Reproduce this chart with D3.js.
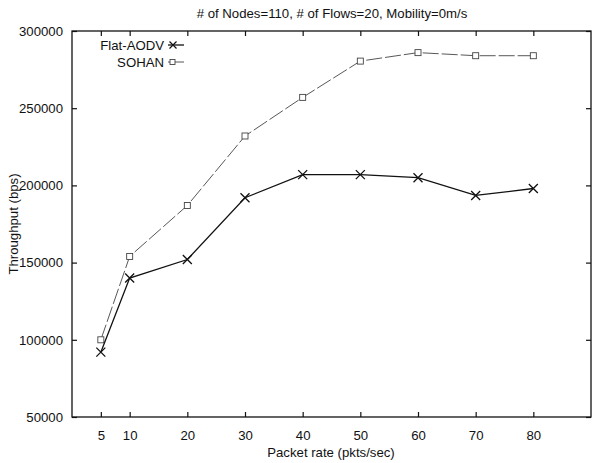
<!DOCTYPE html>
<html>
<head>
<meta charset="utf-8">
<script src="https://cdn.jsdelivr.net/npm/d3@7"></script>
<style>
  body { margin: 0; background: #fff; }
  text { font-family: "Liberation Sans", Arial, sans-serif; fill: #111; }
</style>
</head>
<body>
<svg id="chart" width="592" height="463"></svg>
<script>
// data
var rates = [5, 10, 20, 30, 40, 50, 60, 70, 80];
var flatAodv = [92000, 140000, 152000, 192000, 207000, 207000, 205000, 193500, 198000];
var sohan = [100000, 154000, 187000, 232000, 257000, 280500, 286000, 284000, 284000];
var yTicks = [50000, 100000, 150000, 200000, 250000, 300000];
var seriesNames = ["Flat-AODV", "SOHAN"];

var svg = d3.select("#chart"),
    margin = {left: 72, right: 1, top: 31, bottom: 46},
    W = 592, H = 463,
    fs = 13.2;

var x = d3.scaleLinear().domain([0, 90]).range([margin.left, W - margin.right]);
var y = d3.scaleLinear().domain([50000, 300000]).range([H - margin.bottom, margin.top]);

// frame
svg.append("rect")
  .attr("x", x(0)).attr("y", y(300000))
  .attr("width", x(90) - x(0)).attr("height", y(50000) - y(300000))
  .attr("fill", "none").attr("stroke", "#111").attr("stroke-width", 1.3);

// axes, ticks inward, mirrored
var tickLen = 5;
svg.append("g")
  .attr("transform", "translate(0," + y(50000) + ")")
  .call(d3.axisBottom(x).tickValues(rates).tickSize(-tickLen).tickPadding(14))
  .call(function (g) { g.select(".domain").remove(); });
svg.append("g")
  .attr("transform", "translate(0," + y(300000) + ")")
  .call(d3.axisTop(x).tickValues(rates).tickSize(-tickLen).tickFormat(""))
  .call(function (g) { g.select(".domain").remove(); });
svg.append("g")
  .attr("transform", "translate(" + x(0) + ",0)")
  .call(d3.axisLeft(y).tickValues(yTicks).tickSize(-tickLen).tickPadding(9).tickFormat(d3.format("d")))
  .call(function (g) { g.select(".domain").remove(); });
svg.append("g")
  .attr("transform", "translate(" + x(90) + ",0)")
  .call(d3.axisRight(y).tickValues(yTicks).tickSize(-tickLen).tickFormat(""))
  .call(function (g) { g.select(".domain").remove(); });

svg.selectAll(".tick line").attr("stroke", "#111").attr("stroke-width", 1.2);
svg.selectAll(".tick text").attr("font-size", fs).attr("fill", "#111")
  .style("font-family", "'Liberation Sans', Arial, sans-serif");

// titles
svg.append("text").attr("x", 332).attr("y", 18).attr("text-anchor", "middle")
  .attr("font-size", fs).text("# of Nodes=110, # of Flows=20, Mobility=0m/s");
svg.append("text").attr("x", 331).attr("y", 457).attr("text-anchor", "middle")
  .attr("font-size", fs).text("Packet rate (pkts/sec)");
svg.append("text").attr("transform", "translate(18,224) rotate(-90)").attr("text-anchor", "middle")
  .attr("font-size", fs).text("Throughput (bps)");

var line = d3.line().x(function (d, i) { return x(rates[i]); }).y(function (d) { return y(d); });

// SOHAN: gray dashed line with small squares
svg.append("path").datum(sohan).attr("d", line)
  .attr("fill", "none").attr("stroke", "#444").attr("stroke-width", 0.9)
  .attr("stroke-dasharray", "16,3");
svg.selectAll(".sq").data(sohan).enter().append("rect")
  .attr("x", function (d, i) { return x(rates[i]) - 3; })
  .attr("y", function (d) { return y(d) - 3; })
  .attr("width", 6).attr("height", 6)
  .attr("fill", "#fff").attr("stroke", "#444").attr("stroke-width", 0.9);

// Flat-AODV: black solid with X markers
svg.append("path").datum(flatAodv).attr("d", line)
  .attr("fill", "none").attr("stroke", "#111").attr("stroke-width", 1.3);
function cross(g, cx, cy, r, w) {
  g.append("path")
    .attr("d", "M" + (cx - r) + "," + (cy - r) + "L" + (cx + r) + "," + (cy + r) +
               "M" + (cx - r) + "," + (cy + r) + "L" + (cx + r) + "," + (cy - r))
    .attr("stroke", "#111").attr("stroke-width", w).attr("fill", "none");
}
flatAodv.forEach(function (d, i) { cross(svg, x(rates[i]), y(d), 4.5, 1.3); });

// legend
var lg = svg.append("g");
lg.append("text").attr("x", 164).attr("y", 49.5).attr("text-anchor", "end")
  .attr("font-size", fs).text(seriesNames[0]);
lg.append("line").attr("x1", 168).attr("x2", 184).attr("y1", 45).attr("y2", 45)
  .attr("stroke", "#111").attr("stroke-width", 1.3);
cross(lg, 173, 45, 3.5, 1.2);
lg.append("text").attr("x", 164).attr("y", 66.5).attr("text-anchor", "end")
  .attr("font-size", fs).text(seriesNames[1]);
lg.append("line").attr("x1", 168).attr("x2", 184).attr("y1", 62).attr("y2", 62)
  .attr("stroke", "#444").attr("stroke-width", 0.9);
lg.append("rect").attr("x", 170).attr("y", 59.5).attr("width", 5).attr("height", 5)
  .attr("fill", "#fff").attr("stroke", "#444").attr("stroke-width", 0.9);
</script>
</body>
</html>
